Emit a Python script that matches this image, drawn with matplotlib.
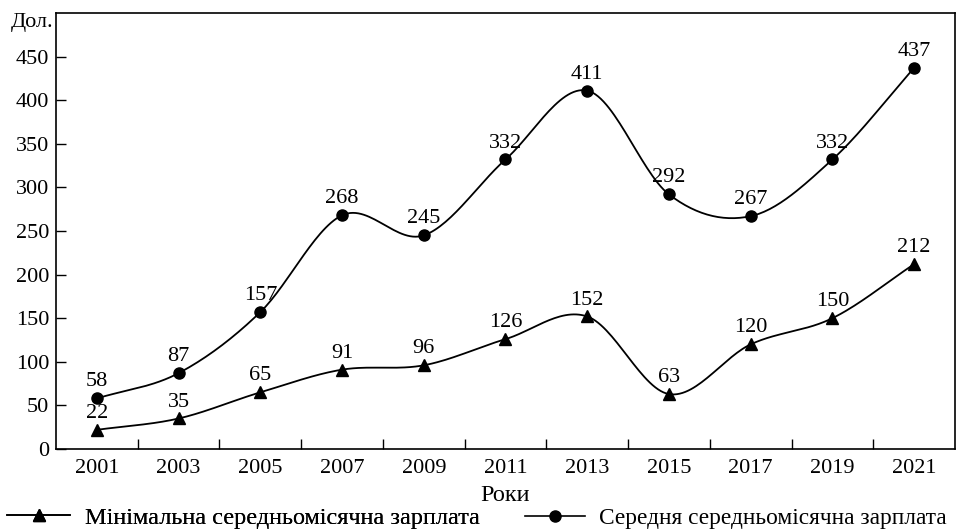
import matplotlib
matplotlib.use("Agg")
import matplotlib.pyplot as plt
import numpy as np
from matplotlib.lines import Line2D

years = ["2001", "2003", "2005", "2007", "2009", "2011", "2013", "2015", "2017", "2019", "2021"]
min_wage = [22, 35, 65, 91, 96, 126, 152, 63, 120, 150, 212]
avg_wage = [58, 87, 157, 268, 245, 332, 411, 292, 267, 332, 437]
yticks = [0, 50, 100, 150, 200, 250, 300, 350, 400, 450]
series_names = ["Мінімальна середньомісячна зарплата", "Середня середньомісячна зарплата"]

plt.rcParams["font.family"] = ["Liberation Serif", "DejaVu Serif"]
FS = 16
LFS = 17.5


def smooth(x, y, n=30):
    # uniform Catmull-Rom through the points, for the smoothed look of the original
    x = np.asarray(x, float); y = np.asarray(y, float)
    px = np.concatenate([[2 * x[0] - x[1]], x, [2 * x[-1] - x[-2]]])
    py = np.concatenate([[2 * y[0] - y[1]], y, [2 * y[-1] - y[-2]]])
    xs, ys = [], []
    t = np.linspace(0, 1, n, endpoint=False)
    for i in range(1, len(px) - 2):
        for p, out in ((px, xs), (py, ys)):
            p0, p1, p2, p3 = p[i - 1], p[i], p[i + 1], p[i + 2]
            out.extend(0.5 * ((2 * p1) + (-p0 + p2) * t + (2 * p0 - 5 * p1 + 4 * p2 - p3) * t ** 2
                              + (-p0 + 3 * p1 - 3 * p2 + p3) * t ** 3))
    xs.append(x[-1]); ys.append(y[-1])
    return np.array(xs), np.array(ys)


fig = plt.figure(figsize=(9.59, 5.30), dpi=100)
ax = fig.add_axes([0.0584, 0.1528, 0.9374, 0.8227])
x = np.arange(len(years))

for vals, mk, ms in ((min_wage, "^", 8.5), (avg_wage, "o", 8)):
    sx, sy = smooth(x, vals)
    ax.plot(sx, sy, color="black", lw=1.3)
    ax.plot(x, vals, ls="none", marker=mk, ms=ms, color="black")
    for xi, v in zip(x, vals):
        ax.annotate(str(v), (xi, v), xytext=(0, 5), textcoords="offset points",
                    ha="center", va="bottom", fontsize=FS)

ax.set_xlim(-0.5, len(years) - 0.5)
ax.set_ylim(0, 500)
ax.set_yticks(yticks)
ax.set_yticklabels([str(v) for v in yticks], fontsize=FS)
ax.set_xticks(x)
ax.set_xticklabels(years, fontsize=FS)
ax.tick_params(axis="x", length=0, pad=7)
ax.set_xticks(np.arange(0.5, len(years) - 1, 1), minor=True)
ax.tick_params(axis="x", which="minor", direction="in", length=7, width=1)
ax.tick_params(axis="y", direction="in", length=7, width=1, pad=5)
for s in ax.spines.values():
    s.set_linewidth(1.2)

ax.text(-0.003, 1.0, "Дол.", transform=ax.transAxes, ha="right", va="top", fontsize=FS)
ax.set_xlabel("Роки", fontsize=17.5, labelpad=5)

h1 = Line2D([], [], color="black", lw=1.2, marker="^", ms=8.5)
h2 = Line2D([], [], color="black", lw=1.2, marker="o", ms=8)
kw = dict(loc="lower left", frameon=False, handlelength=2.6, handletextpad=0.6,
          borderaxespad=0, borderpad=0.05)
leg1 = fig.legend([h1], [series_names[0]], bbox_to_anchor=(0.006, 0.0), fontsize=LFS, **kw)
fig.legend([h2], [series_names[1]], bbox_to_anchor=(0.546, 0.0), fontsize=16.8, **kw)
fig.add_artist(leg1)

fig.savefig("out.png", dpi=100)
